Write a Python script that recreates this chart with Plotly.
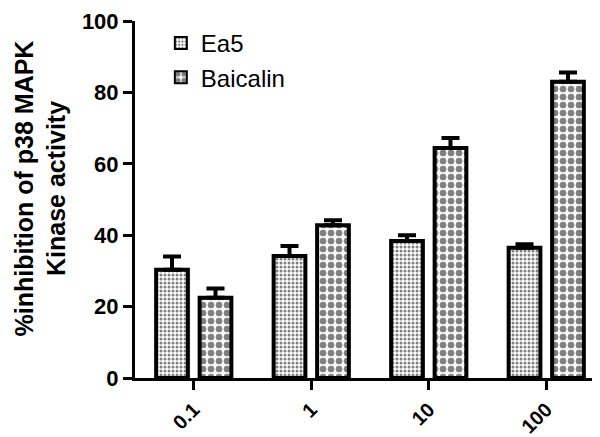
import plotly.graph_objects as go

categories = ["0.1", "1", "10", "100"]
ea5_values = [30.3, 34.2, 38.4, 36.5]
ea5_errors = [3.7, 2.8, 1.6, 1.0]
baicalin_values = [22.5, 42.8, 64.4, 83.0]
baicalin_errors = [2.6, 1.4, 2.8, 2.6]
y_ticks = [0, 20, 40, 60, 80, 100]
y_title = "%inhibition of p38 MAPK<br>Kinase activity"

FONT = "Arial, Liberation Sans, sans-serif"

fig = go.Figure()
fig.add_trace(go.Bar(
    name="Ea5", x=categories, y=ea5_values,
    marker=dict(color="white", line=dict(color="black", width=4),
                pattern=dict(shape=".", size=4, solidity=0.45, fgcolor="black", bgcolor="white")),
    error_y=dict(type="data", array=ea5_errors, arrayminus=[0]*4, symmetric=False,
                 color="black", thickness=4, width=9),
))
fig.add_trace(go.Bar(
    name="Baicalin", x=categories, y=baicalin_values,
    marker=dict(color="white", line=dict(color="black", width=4),
                pattern=dict(shape=".", size=8, solidity=0.55, fgcolor="black", bgcolor="white")),
    error_y=dict(type="data", array=baicalin_errors, arrayminus=[0]*4, symmetric=False,
                 color="black", thickness=4, width=9),
))

fig.add_annotation(
    text=y_title, textangle=-90, showarrow=False,
    xref="paper", yref="paper", x=-0.27, y=0.53, xanchor="left", yanchor="middle",
    font=dict(size=25, family=FONT, color="black", weight="bold"),
)

fig.update_layout(
    width=600, height=437,
    margin=dict(l=127, r=3, t=13, b=67),
    paper_bgcolor="white", plot_bgcolor="white",
    barmode="group", bargap=0.26, bargroupgap=0.27,
    font=dict(family=FONT, color="black"),
    showlegend=True,
    legend=dict(x=0.055, y=1.0, xanchor="left", yanchor="top",
                font=dict(size=24, family=FONT, color="black"),
                bgcolor="rgba(0,0,0,0)", tracegroupgap=14, itemsizing="constant"),
    xaxis=dict(
        type="category", range=[-0.5, 3.5], automargin=False,
        showline=True, linecolor="black", linewidth=3,
        ticks="outside", ticklen=9, tickwidth=3, tickcolor="black",
        tickangle=-45, tickfont=dict(size=20, family=FONT, color="black", weight="bold"),
        showgrid=False, zeroline=False,
    ),
    yaxis=dict(
        range=[0, 100], tickvals=y_ticks, automargin=False,
        showline=True, linecolor="black", linewidth=3,
        ticks="outside", ticklen=9, tickwidth=3, tickcolor="black",
        tickfont=dict(size=22, family=FONT, color="black", weight="bold"),
        showgrid=False, zeroline=False,
    ),
)

fig.write_html("out.html")
